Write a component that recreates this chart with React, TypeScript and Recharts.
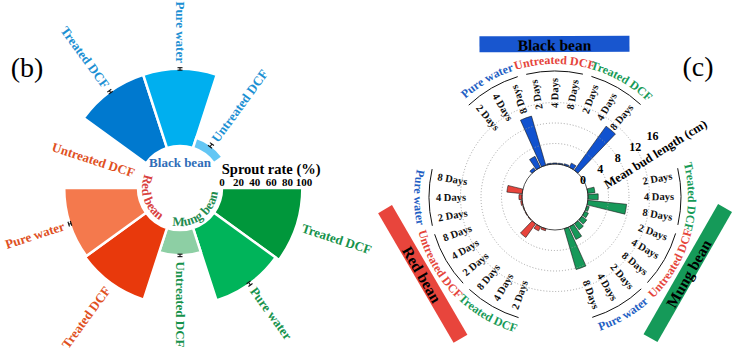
import React from 'react';
import { RadialBarChart, RadialBar, PolarAngleAxis, PolarRadiusAxis, Sector } from 'recharts';

const FONT = '"Liberation Serif", "Times New Roman", serif';
const RAD = Math.PI / 180;
const W = 749;
const H = 364;

// ---------- (b) sprout rate, clockwise from 3 o'clock ----------
const sproutBeans = ['Mung bean', 'Mung bean', 'Mung bean', 'Red bean', 'Red bean', 'Red bean', 'Black bean', 'Black bean', 'Black bean', ''];
const sproutTreatments = ['Treated DCF', 'Pure water', 'Untreated DCF', 'Treated DCF', 'Pure water', 'Untreated DCF', 'Treated DCF', 'Pure water', 'Untreated DCF', ''];
const sproutRate = [98, 93, 31, 92, 90, 0, 94, 94, 13, null];
const sproutError = [0, 2, 1.5, 0, 1.5, 0, 1.5, 1.5, 2, 0];
const sproutTicks = [0, 20, 40, 60, 80, 100];

const sproutFill = ['#00973B', '#00B45A', '#8DCFA4', '#E8390C', '#F4794D', '#F8B49C', '#0079CF', '#00AFEF', '#63C6F4', 'none'];
const beanLabelColor: Record<string, string> = { 'Mung bean': '#15924B', 'Red bean': '#E0511F', 'Black bean': '#1C90D3' };
const beanInnerColor: Record<string, string> = { 'Mung bean': '#1F8C50', 'Red bean': '#D9413F', 'Black bean': '#2F6DB8' };

// ---------- (c) mean bud length, clockwise from upper left ----------
const budBeans = ['Black bean', 'Mung bean', 'Red bean'];
const blackTreatments = ['Pure water', 'Untreated DCF', 'Treated DCF'];
const mungTreatments = ['Treated DCF', 'Untreated DCF', 'Pure water'];
const redTreatments = ['Treated DCF', 'Untreated DCF', 'Pure water'];
const budDays = ['2 Days', '4 Days', '8 Days'];
const blackBudLength = [0.6, 2.4, 10.0, 0.2, 0.2, 0.2, 0.3, 0.9, 10.6];
const mungBudLength = [1.4, 2.0, 7.6, 0.5, 0.8, 1.2, 1.5, 2.8, 8.3];
const redBudLength = [0.4, 0.9, 3.3, 0.1, 0.1, 0.1, 0.3, 0.6, 3.0];
const budTicks = [0, 4, 8, 12, 16];

const budFill: Record<string, string> = { 'Black bean': '#1152CF', 'Mung bean': '#17995A', 'Red bean': '#E8443C' };
const boxFill: Record<string, string> = { 'Black bean': '#1856CF', 'Mung bean': '#159A59', 'Red bean': '#E8453C' };
const trtColor: Record<string, string> = { 'Pure water': '#1F5FC4', 'Untreated DCF': '#E5453B', 'Treated DCF': '#179A57' };

const sproutData = sproutRate.map((rate, i) => ({
  slot: sproutBeans[i] ? `${sproutBeans[i]} ${sproutTreatments[i]}` : 'gap',
  bean: sproutBeans[i],
  label: sproutTreatments[i],
  rate,
  err: sproutError[i],
  fill: sproutFill[i],
  groupMid: i % 3 === 1 && i < 9,
}));

const budTreatmentLists = [blackTreatments, mungTreatments, redTreatments];
const budLengthLists = [blackBudLength, mungBudLength, redBudLength];
const budData: any[] = [];
budBeans.forEach((bean, b) => {
  budLengthLists[b].forEach((len, j) => {
    const trt = budTreatmentLists[b][Math.floor(j / 3)];
    budData.push({ slot: `${bean} ${trt} ${budDays[j % 3]}`, bean, trt, trtIdx: Math.floor(j / 3), dayIdx: j % 3, day: budDays[j % 3], length: len, fill: budFill[bean] });
  });
  for (let g = 0; g < 3; g++) budData.push({ slot: `${bean} gap ${g}`, length: null });
});

// chart geometry (bars are drawn one band after their scale position, so ranges start one band earlier)
const CX1 = 180;
const CY1 = 188;
const CX2 = 555;
const CY2 = 197;
const AXIS2_ANGLE = 32;
const DAY_R = 104;

const pt = (cx: number, cy: number, r: number, a: number) => ({ x: cx + r * Math.cos(a * RAD), y: cy - r * Math.sin(a * RAD) });
const norm = (a: number) => {
  let n = ((a % 360) + 360) % 360;
  if (n >= 180) n -= 360;
  return n;
};
const arcPath = (cx: number, cy: number, r: number, a0: number, a1: number) => {
  const p0 = pt(cx, cy, r, a0);
  const p1 = pt(cx, cy, r, a1);
  const sweep = a1 > a0 ? 0 : 1;
  const large = Math.abs(a1 - a0) > 180 ? 1 : 0;
  return `M${p0.x},${p0.y} A${r},${r} 0 ${large} ${sweep} ${p1.x},${p1.y}`;
};

const SproutBar = (props: any) => {
  const { cx, cy, innerRadius, outerRadius, startAngle, endAngle, payload } = props;
  if (!payload || payload.rate == null) return <g />;
  const mid = (startAngle + endAngle) / 2;
  const n = norm(mid);
  const right = n > -91 && n < 89;
  const lp = pt(cx, cy, outerRadius + 6, mid);
  const rot = right ? -n : 180 - n;
  const pxPer = payload.rate > 0 ? (outerRadius - innerRadius) / payload.rate : 0;
  const e = payload.err * pxPer;
  const ea = pt(cx, cy, outerRadius - e, mid);
  const eb = pt(cx, cy, outerRadius + e, mid);
  const tx = Math.sin(mid * RAD) * 2.5;
  const ty = Math.cos(mid * RAD) * 2.5;
  const id = `grp-${payload.bean.replace(' ', '')}`;
  return (
    <g>
      <Sector cx={cx} cy={cy} innerRadius={innerRadius} outerRadius={outerRadius} startAngle={startAngle} endAngle={endAngle} fill={payload.fill} stroke="#fff" strokeWidth={2.5} />
      {e > 0 && (
        <g stroke="#111" strokeWidth={1.1}>
          <line x1={ea.x} y1={ea.y} x2={eb.x} y2={eb.y} />
          <line x1={ea.x - tx} y1={ea.y - ty} x2={ea.x + tx} y2={ea.y + ty} />
          <line x1={eb.x - tx} y1={eb.y - ty} x2={eb.x + tx} y2={eb.y + ty} />
        </g>
      )}
      <text x={lp.x} y={lp.y} transform={`rotate(${rot}, ${lp.x}, ${lp.y})`} textAnchor={right ? 'start' : 'end'} dominantBaseline="central" fontFamily={FONT} fontWeight="bold" fontSize={13} fill={beanLabelColor[payload.bean]}>
        {payload.label}
      </text>
      {payload.groupMid && payload.bean === 'Black bean' && (
        <text x={pt(cx, cy, innerRadius - 16, mid).x} y={pt(cx, cy, innerRadius - 16, mid).y} textAnchor="middle" dominantBaseline="central" fontFamily={FONT} fontWeight="bold" fontSize={13} fill={beanInnerColor[payload.bean]}>
          {payload.bean}
        </text>
      )}
      {payload.groupMid && payload.bean !== 'Black bean' && (
        <g>
          <path id={id} d={arcPath(cx, cy, innerRadius - 4, mid - 70, mid + 70)} fill="none" />
          <text fontFamily={FONT} fontWeight="bold" fontSize={13} fill={beanInnerColor[payload.bean]}>
            <textPath href={`#${id}`} startOffset="50%" textAnchor="middle">
              {payload.bean}
            </textPath>
          </text>
        </g>
      )}
    </g>
  );
};

const SproutTick = (props: any) => {
  const { x, y, payload } = props;
  return (
    <g fontFamily={FONT} fontWeight="bold" fill="#000">
      <text x={x} y={y - 6} textAnchor="middle" dominantBaseline="central" fontSize={11}>
        {payload.value}
      </text>
      {payload.value === 60 && (
        <text x={x} y={y - 19} textAnchor="middle" dominantBaseline="central" fontSize={14.5}>
          Sprout rate (%)
        </text>
      )}
    </g>
  );
};

const BudBar = (props: any) => {
  const { cx, cy, innerRadius, outerRadius, startAngle, endAngle, payload } = props;
  if (!payload || payload.length == null) return <g />;
  const mid = (startAngle + endAngle) / 2;
  const n = norm(mid);
  const inward = n > 115 || n < -95;
  const dp = pt(cx, cy, DAY_R, mid);
  const rot = inward ? 180 - n : -n;
  const upper = mid > -5;
  const id = `trt-${payload.slot.replace(/ /g, '')}`;
  const box = pt(cx, cy, 153, mid);
  const boxRot = upper ? 90 - mid : -90 - mid;
  return (
    <g>
      <Sector cx={cx} cy={cy} innerRadius={innerRadius} outerRadius={outerRadius} startAngle={startAngle} endAngle={endAngle} fill={payload.fill} stroke="#1a1a1a" strokeWidth={0.6} />
      <text x={dp.x} y={dp.y} transform={`rotate(${rot}, ${dp.x}, ${dp.y})`} textAnchor="middle" dominantBaseline="central" fontFamily={FONT} fontWeight="bold" fontSize={10.5} fill="#111">
        {payload.day}
      </text>
      {payload.dayIdx === 1 && (
        <g>
          <path d={arcPath(cx, cy, 126, mid + 13, mid - 13)} fill="none" stroke="#111" strokeWidth={1} />
          <path id={id} d={upper ? arcPath(cx, cy, 133, mid + 45, mid - 45) : arcPath(cx, cy, 141, mid - 45, mid + 45)} fill="none" />
          <text fontFamily={FONT} fontWeight="bold" fontSize={12} fill={trtColor[payload.trt]}>
            <textPath href={`#${id}`} startOffset="50%" textAnchor="middle">
              {payload.trt}
            </textPath>
          </text>
        </g>
      )}
      {payload.dayIdx === 1 && payload.trtIdx === 1 && (
        <g transform={`rotate(${boxRot}, ${box.x}, ${box.y})`}>
          <rect x={box.x - 75} y={box.y - 8} width={150} height={16} fill={boxFill[payload.bean]} />
          <text x={box.x} y={box.y + 1} textAnchor="middle" dominantBaseline="central" fontFamily={FONT} fontWeight="bold" fontSize={15.5} fill="#000">
            {payload.bean}
          </text>
        </g>
      )}
    </g>
  );
};

const BudTick = (props: any) => {
  const { x, y, payload } = props;
  const r = Math.hypot(x - CX2, y - CY2);
  const v = payload.value;
  return (
    <g>
      {v === 0 && <circle cx={CX2} cy={CY2} r={r} fill="none" stroke="#222" strokeWidth={0.8} />}
      {v > 0 && v < 16 && <circle cx={CX2} cy={CY2} r={r} fill="none" stroke="#9a9a9a" strokeWidth={0.9} strokeDasharray="1 2" />}
      <text x={x} y={y} textAnchor="middle" dominantBaseline="central" fontFamily={FONT} fontWeight="bold" fontSize={12} fill="#000">
        {v}
      </text>
    </g>
  );
};

const meanP = pt(CX2, CY2, 108, AXIS2_ANGLE);
const meanX = meanP.x + Math.sin(AXIS2_ANGLE * RAD) * 17;
const meanY = meanP.y + Math.cos(AXIS2_ANGLE * RAD) * 17;

export default function App() {
  return (
    <div style={{ position: 'absolute', left: 0, top: 0, width: W, height: H, background: '#fff', overflow: 'hidden' }}>
      <div style={{ position: 'absolute', left: 0, top: 0 }}>
        <RadialBarChart width={W} height={H} data={sproutData} layout="centric" cx={CX1} cy={CY1} innerRadius={42} outerRadius={124} startAngle={-36} endAngle={-396} barCategoryGap={0}>
          <PolarAngleAxis type="category" dataKey="slot" tick={false} axisLine={false} tickLine={false} />
          <PolarRadiusAxis type="number" angle={0} domain={[0, 100]} ticks={sproutTicks} tick={SproutTick} axisLine={false} tickLine={false} />
          <RadialBar dataKey="rate" shape={SproutBar} isAnimationActive={false} />
        </RadialBarChart>
      </div>
      <div style={{ position: 'absolute', left: 0, top: 0 }}>
        <RadialBarChart width={W} height={H} data={budData} layout="centric" cx={CX2} cy={CY2} innerRadius={33} outerRadius={115} startAngle={125} endAngle={-235} barCategoryGap="12%">
          <PolarAngleAxis type="category" dataKey="slot" tick={false} axisLine={false} tickLine={false} />
          <PolarRadiusAxis type="number" angle={AXIS2_ANGLE} domain={[0, 16]} ticks={budTicks} tick={BudTick} axisLine={false} tickLine={false} />
          <RadialBar dataKey="length" shape={BudBar} isAnimationActive={false} />
        </RadialBarChart>
      </div>
      <svg width={W} height={H} style={{ position: 'absolute', left: 0, top: 0, pointerEvents: 'none' }}>
        <text x={27} y={67} textAnchor="middle" dominantBaseline="central" fontFamily={FONT} fontSize={28} fill="#000">(b)</text>
        <text x={698} y={66} textAnchor="middle" dominantBaseline="central" fontFamily={FONT} fontSize={28} fill="#000">(c)</text>
        <text x={meanX} y={meanY} transform={`rotate(${-AXIS2_ANGLE}, ${meanX}, ${meanY})`} textAnchor="middle" dominantBaseline="central" fontFamily={FONT} fontWeight="bold" fontSize={12.5} fill="#000">
          Mean bud length (cm)
        </text>
      </svg>
    </div>
  );
}
